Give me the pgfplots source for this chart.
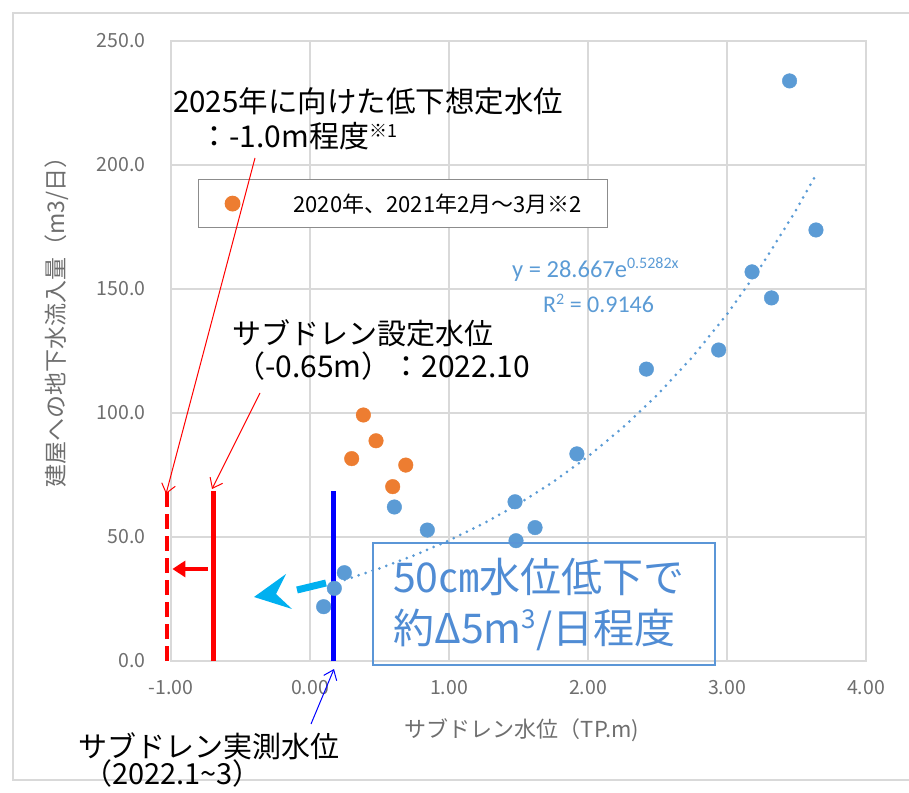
\documentclass[border=0pt]{standalone}
\usepackage{fontspec}
\setmainfont{Noto Sans CJK JP}
\newfontfamily\calfont{Carlito}
\usepackage{pgfplots}
\pgfplotsset{compat=1.18}
\usetikzlibrary{arrows.meta}
\definecolor{blueM}{RGB}{91,155,213}
\definecolor{orangeM}{RGB}{237,125,49}
\definecolor{gridgray}{RGB}{217,217,217}
\definecolor{tickgray}{RGB}{110,110,110}
\definecolor{boxblue}{RGB}{91,150,215}
\definecolor{boxtext}{RGB}{80,140,212}
\definecolor{cyanA}{RGB}{0,176,240}
\newcommand{\fs}[1]{\fontsize{#1}{#1}\selectfont}
\begin{document}
\begin{tikzpicture}[x=1pt,y=1pt]
\begin{scope}[shift={(0pt,792pt)},y=-1pt]
\draw[gridgray, line width=1.5pt] (13,13) rectangle (940,780);
\end{scope}
\begin{axis}[
  at={(171pt,131pt)}, anchor=south west,
  scale only axis, width=695pt, height=620pt,
  xmin=-1, xmax=4, ymin=0, ymax=250,
  xtick={-1,0,1,2,3,4}, xticklabels={-1.00,0.00,1.00,2.00,3.00,4.00},
  ytick={0,50,100,150,200,250}, yticklabels={0.0,50.0,100.0,150.0,200.0,250.0},
  grid=major, grid style={gridgray, line width=1.2pt},
  axis line style={gridgray, line width=1.2pt},
  major tick length=0pt,
  tick label style={font=\fs{19.5}, text=tickgray},
  yticklabel style={xshift=-22pt},
  xticklabel style={yshift=-16pt},
  clip=false,
  xlabel={サブドレン水位（TP.m)},
  ylabel={建屋への地下水流入量（m3/日）},
  xlabel style={font=\fs{22}, text=tickgray, at={(axis description cs:0.505,-0.111)}, anchor=center},
  ylabel style={font=\fs{23}, text=tickgray, at={(axis description cs:-0.165,0.556)}, anchor=center},
  legend style={at={(axis description cs:0.0388,0.7774)}, anchor=north west,
    draw=gray!90, line width=1.2pt, fill=white, inner sep=0pt, font=\fs{22},
    nodes={inner sep=0pt}},
  legend cell align=left,
  legend image code/.code={\path[draw=none,fill=none] (0pt,-24pt) rectangle (95pt,24pt); \fill[orangeM] (34pt,0pt) circle (7.3pt);},
]
% measured series
\addplot[only marks, mark=*, mark size=7.3pt, color=blueM, mark options={draw=blueM, fill=blueM}, forget plot] coordinates {
 (0.098,21.9) (0.175,29.3) (0.247,35.6) (0.607,62.1) (0.844,52.8)
 (1.475,64.2) (1.482,48.5) (1.619,53.8) (1.92,83.5) (2.42,117.7)
 (2.94,125.4) (3.18,156.9) (3.32,146.4) (3.45,233.9) (3.64,173.8)
};
% exponential trendline y = 28.667 e^{0.5282x}
\addplot[color=blueM, line width=3pt, line cap=round, dash pattern=on 0pt off 7.3pt, forget plot] coordinates {
 (0.25,32.71) (0.5,37.33) (0.75,42.60) (1.0,48.62) (1.25,55.48) (1.5,63.31)
 (1.75,72.25) (2.0,82.45) (2.25,94.09) (2.5,107.37) (2.75,122.52) (3.0,139.82)
 (3.25,159.56) (3.5,182.08) (3.64,196.06)
};
% 2020, 2021 Feb-Mar series
\addplot[only marks, mark=*, mark size=7.3pt, color=orangeM, mark options={draw=orangeM, fill=orangeM}] coordinates {
 (0.384,99.2) (0.475,88.8) (0.30,81.6) (0.689,79.0) (0.595,70.3)
};
\addlegendentry{2020年、2021年2月～3月※2\kern 26pt\rule{0pt}{1pt}}
% water level lines
\addplot[red, line width=4.5pt, dash pattern=on 15pt off 7pt, forget plot] coordinates {(-1.03,0) (-1.03,68.5)};
\addplot[red, line width=4.7pt, forget plot] coordinates {(-0.694,0) (-0.694,68.5)};
\addplot[blue, line width=4.5pt, forget plot] coordinates {(0.168,0) (0.168,68.5)};
% red horizontal arrow
\draw[red, line width=4pt, -{Triangle[length=13pt,width=16pt]}] (axis cs:-0.734,37.1) -- (axis cs:-0.99,37.1);
\end{axis}
\begin{scope}[shift={(0pt,792pt)},y=-1pt]
% cyan arrow
\fill[cyanA] (254,597) -- (286,574) -- (276,594) -- (292,609) -- cycle;
\draw[cyanA, line width=7pt] (297,590) -- (326,583);
% thin pointer arrows
\draw[red, line width=1pt, -{Straight Barb[length=9pt,width=14pt]}] (255,158) -- (166,494);
\draw[red, line width=1pt, -{Straight Barb[length=9pt,width=14pt]}] (260,393) -- (212,489);
\draw[blue, line width=1pt, -{Straight Barb[length=9pt,width=14pt]}] (311,724) -- (334,669);
% annotations
\node[anchor=base west, inner sep=0pt, font=\fs{29.5}] at (173,113) {2025年に向けた低下想定水位};
\node[anchor=base west, inner sep=0pt, font=\fs{30}] at (199,148) {：-1.0m程度\raisebox{10pt}{\fs{18}※1}};
\node[anchor=base west, inner sep=0pt, font=\fs{29}] at (232,345) {サブドレン設定水位};
\node[anchor=base west, inner sep=0pt, font=\fs{30}] at (235,378) {（-0.65m）：2022.10};
\node[anchor=base west, inner sep=0pt, font=\fs{29}] at (78,757) {サブドレン実測水位};
\node[anchor=base west, inner sep=0pt, font=\fs{29}] at (83,784) {（2022.1\textasciitilde 3）};
% trendline equation
\node[anchor=base west, inner sep=0pt, text=blueM, font=\calfont\fs{24.5}] at (512,278) {y = 28.667e\raisebox{9pt}{\fs{16}0.5282x}};
\node[anchor=base west, inner sep=0pt, text=blueM, font=\calfont\fs{24}] at (543,313) {R\raisebox{8pt}{\fs{16}2} = 0.9146};
% text box
\draw[boxblue, line width=1.5pt] (373,543) rectangle (715,665);
\node[anchor=base west, inner sep=0pt, text=boxtext, font=\fs{41}] at (393,593) {50㎝水位低下で};
\node[anchor=base west, inner sep=0pt, text=boxtext, font=\fs{41}] at (393,643) {約Δ5m\raisebox{14pt}{\fs{26}3}/日程度};
\end{scope}
\pgfresetboundingbox
\path[use as bounding box] (0,0) rectangle (909,792);
\end{tikzpicture}
\end{document}
